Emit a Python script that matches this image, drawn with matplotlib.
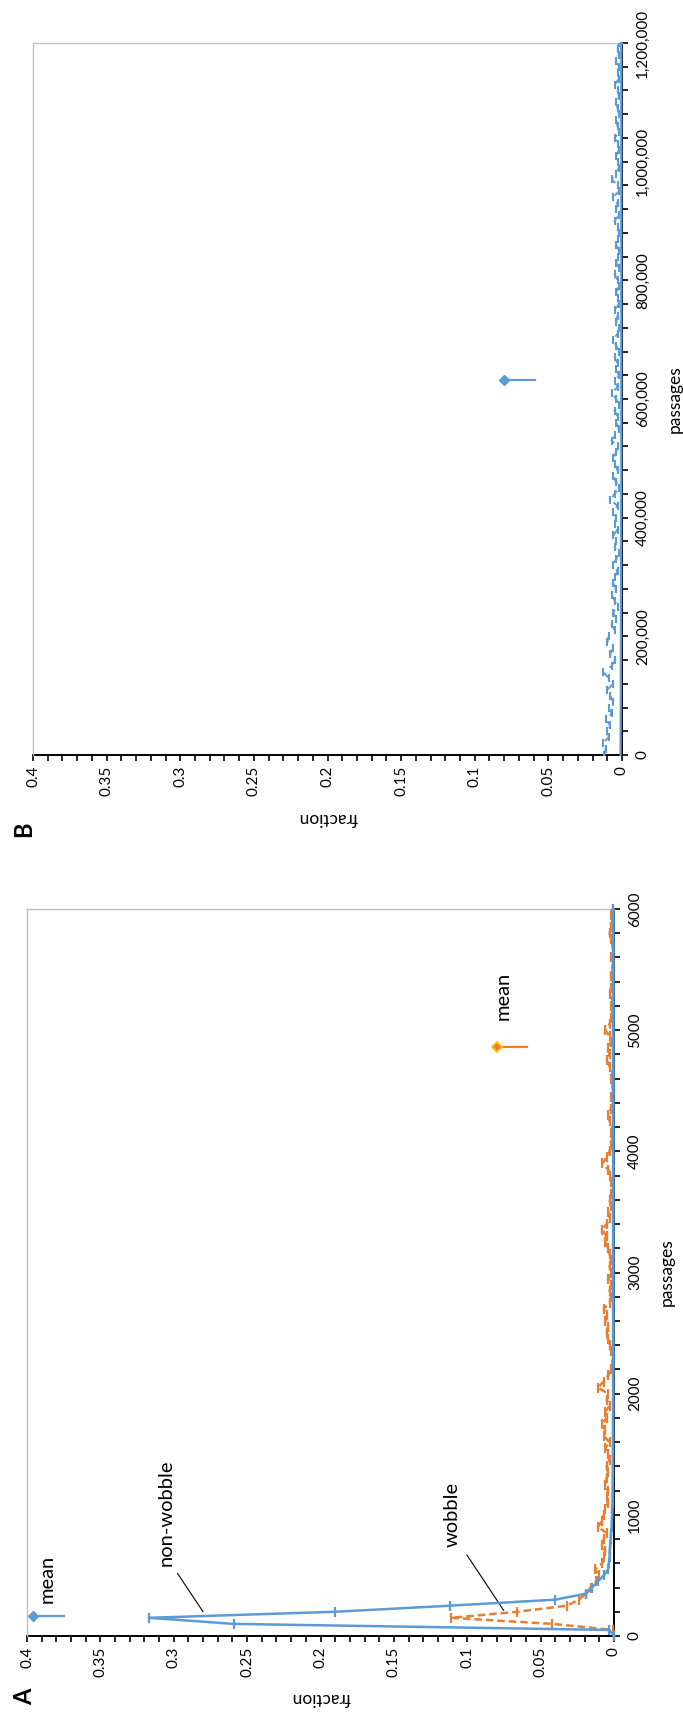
import matplotlib
matplotlib.use("Agg")
import matplotlib.pyplot as plt
from matplotlib.ticker import MultipleLocator, FuncFormatter

W, H = 683, 1714
plt.rcParams['font.family'] = ['Lato', 'DejaVu Sans']

BLUE = '#5B9BD5'
ORANGE = '#ED7D31'
GOLD = '#FFC000'
GRID_GRAY = '#BFBFBF'

# ---------------- Panel A: passages 0..6000 in bins of 50 ----------------
passages_a = list(range(0, 6001, 50))

nonwobble_a = [
    0.0000, 0.0032, 0.259, 0.317, 0.190, 0.112, 0.040, 0.019, 0.015, 0.011,
    0.0070, 0.0040, 0.0035, 0.0030, 0.0030, 0.0025, 0.0022, 0.0020, 0.0016, 0.0015,
    0.0012, 0.0011, 0.0010, 0.0010, 0.0009, 0.0009, 0.0008, 0.0008, 0.0008, 0.0007,
    0.0007, 0.0007, 0.0006, 0.0006, 0.0006, 0.0006, 0.0006, 0.0005, 0.0005, 0.0005,
    0.0005, 0.0005, 0.0005, 0.0005, 0.0004, 0.0004, 0.0004, 0.0004, 0.0004, 0.0004,
    0.0004, 0.0004, 0.0004, 0.0004, 0.0004, 0.0004, 0.0004, 0.0004, 0.0004, 0.0004,
    0.0004, 0.0004, 0.0004, 0.0004, 0.0004, 0.0004, 0.0004, 0.0004, 0.0004, 0.0004,
    0.0004, 0.0004, 0.0004, 0.0004, 0.0004, 0.0004, 0.0004, 0.0004, 0.0004, 0.0004,
    0.0004, 0.0004, 0.0004, 0.0004, 0.0004, 0.0004, 0.0004, 0.0004, 0.0004, 0.0004,
    0.0004, 0.0004, 0.0004, 0.0004, 0.0004, 0.0004, 0.0004, 0.0004, 0.0004, 0.0004,
    0.0004, 0.0004, 0.0004, 0.0004, 0.0004, 0.0004, 0.0004, 0.0004, 0.0004, 0.0004,
    0.0004, 0.0004, 0.0004, 0.0004, 0.0004, 0.0004, 0.0004, 0.0004, 0.0004, 0.0004,
    0.0004,
]

wobble_a = [
    0.000, 0.0005, 0.042, 0.111, 0.066, 0.032, 0.024, 0.019, 0.016, 0.012,
    0.010, 0.013, 0.008, 0.007, 0.006, 0.008, 0.007, 0.005, 0.011, 0.008,
    0.007, 0.006, 0.004, 0.005, 0.004, 0.006, 0.005, 0.004, 0.005, 0.003,
    0.004, 0.006, 0.003, 0.007, 0.006, 0.008, 0.005, 0.006, 0.003, 0.005,
    0.004, 0.011, 0.007, 0.004, 0.002, 0.001, 0.001, 0.002, 0.003, 0.004,
    0.005, 0.004, 0.006, 0.005, 0.007, 0.003, 0.002, 0.003, 0.002, 0.004,
    0.002, 0.003, 0.002, 0.003, 0.004, 0.006, 0.005, 0.008, 0.005, 0.003,
    0.004, 0.002, 0.003, 0.002, 0.001, 0.002, 0.003, 0.004, 0.008, 0.005,
    0.003, 0.002, 0.001, 0.002, 0.001, 0.003, 0.004, 0.002, 0.001, 0.002,
    0.001, 0.001, 0.002, 0.001, 0.003, 0.005, 0.003, 0.004, 0.002, 0.003,
    0.006, 0.003, 0.002, 0.001, 0.002, 0.001, 0.003, 0.002, 0.001, 0.002,
    0.001, 0.001, 0.002, 0.001, 0.001, 0.002, 0.003, 0.002, 0.001, 0.002,
    0.001,
]

mean_nonwobble_a = (165, 0.396, 0.375)    # passage, marker fraction, stem end
mean_wobble_a = (4860, 0.080, 0.059)

# ---------------- Panel B: passages 0..1,200,000 ----------------
passages_b_fine = list(range(0, 1200001, 10000))
scatter_b = [
    0.012, 0.011, 0.013, 0.009, 0.010, 0.008, 0.011, 0.007, 0.009, 0.006,
    0.008, 0.010, 0.006, 0.009, 0.013, 0.007, 0.005, 0.008, 0.006, 0.010,
    0.009, 0.005, 0.007, 0.004, 0.006, 0.003, 0.005, 0.007, 0.004, 0.006,
    0.005, 0.003, 0.006, 0.004, 0.002, 0.005, 0.004, 0.006, 0.003, 0.005,
    0.004, 0.006, 0.003, 0.008, 0.005, 0.002, 0.004, 0.006, 0.003, 0.005,
    0.006, 0.004, 0.003, 0.007, 0.005, 0.002, 0.004, 0.003, 0.005, 0.002,
    0.004, 0.007, 0.003, 0.005, 0.002, 0.004, 0.003, 0.005, 0.002, 0.004,
    0.006, 0.003, 0.002, 0.004, 0.003, 0.005, 0.002, 0.003, 0.004, 0.002,
    0.003, 0.005, 0.002, 0.004, 0.003, 0.002, 0.004, 0.003, 0.002, 0.003,
    0.005, 0.002, 0.004, 0.003, 0.006, 0.002, 0.003, 0.007, 0.004, 0.002,
    0.003, 0.004, 0.002, 0.003, 0.005, 0.002, 0.003, 0.004, 0.002, 0.003,
    0.004, 0.002, 0.003, 0.005, 0.002, 0.003, 0.002, 0.004, 0.002, 0.003,
    0.002,
]
passages_b_coarse = list(range(0, 1200001, 50000))
baseline_b = [
    0.0010, 0.0009, 0.0008, 0.0008, 0.0007, 0.0007, 0.0006, 0.0006, 0.0006, 0.0005,
    0.0005, 0.0005, 0.0005, 0.0005, 0.0005, 0.0005, 0.0005, 0.0005, 0.0005, 0.0005,
    0.0005, 0.0005, 0.0005, 0.0005, 0.0005,
]
mean_b = (632000, 0.080, 0.059)

fraction_ticks_major = 0.05
fraction_ticks_minor = 0.01


def px_rect(x0, y0, x1, y1):
    return [x0 / W, 1 - y1 / H, (x1 - x0) / W, (y1 - y0) / H]


def fx(x):
    return x / W


def fy(y):
    return 1 - y / H


def frac_label(v, pos):
    v = round(v, 2)
    if abs(v) < 1e-9:
        return "0"
    return f"{v:g}"


def style_axes(ax, ymax, ymajor, yminor, yfmt):
    ax.set_xlim(0.4, 0)
    ax.set_ylim(0, ymax)
    for s in ('left', 'top'):
        ax.spines[s].set_color(GRID_GRAY)
        ax.spines[s].set_linewidth(1.0)
    for s in ('bottom', 'right'):
        ax.spines[s].set_color('black')
        ax.spines[s].set_linewidth(1.4)
    ax.spines['bottom'].set_zorder(0.5)
    ax.xaxis.set_major_locator(MultipleLocator(fraction_ticks_major))
    ax.xaxis.set_minor_locator(MultipleLocator(fraction_ticks_minor))
    ax.xaxis.set_major_formatter(FuncFormatter(frac_label))
    ax.yaxis.set_major_locator(MultipleLocator(ymajor))
    ax.yaxis.set_minor_locator(MultipleLocator(yminor))
    ax.yaxis.set_major_formatter(FuncFormatter(yfmt))
    ax.yaxis.tick_right()
    ax.tick_params(axis='both', which='both', direction='out', length=4,
                   width=1.2, color='black')
    ax.tick_params(axis='x', which='major', labelrotation=90, labelsize=11,
                   pad=4)
    ax.tick_params(axis='y', which='major', labelrotation=90, labelsize=11,
                   pad=6)
    plt.setp(ax.get_yticklabels(), va='center')
    ax.set_facecolor('white')


fig = plt.figure(figsize=(W / 100, H / 100), dpi=100)
fig.patch.set_facecolor('white')

axA = fig.add_axes(px_rect(27, 909, 614, 1636))
axB = fig.add_axes(px_rect(33, 43, 622, 755))

style_axes(axA, 6000, 1000, 200, lambda v, p: f"{int(round(v))}")
style_axes(axB, 1200000, 200000, 40000, lambda v, p: f"{int(round(v)):,}")

# ---- Panel A curves
axA.plot(wobble_a, passages_a, color=ORANGE, lw=1.8, ls=(0, (3, 1.6)),
         marker='|', ms=7, mew=1.6, zorder=3, clip_on=False)
axA.plot(nonwobble_a, passages_a, color=BLUE, lw=1.8, marker='|', ms=7,
         mew=1.6, zorder=4, clip_on=False)

# mean markers with stems
p, m, e = mean_nonwobble_a
axA.plot([m, e], [p, p], color=BLUE, lw=1.6, zorder=5)
axA.plot([m], [p], marker='D', ms=5, color=BLUE, zorder=6, clip_on=False)
axA.text(0.386, 469, "mean", rotation=90, ha='center', va='center', fontsize=14.5)

p, m, e = mean_wobble_a
axA.plot([m, e], [p, p], color=ORANGE, lw=1.6, zorder=5)
axA.plot([m], [p], marker='D', ms=5.5, color=ORANGE, mec=GOLD, mew=1.2, zorder=6)
axA.text(0.0755, 5285, "mean", rotation=90, ha='center', va='center', fontsize=14.5)

# series labels with leader lines
axA.text(0.305, 1020, "non-wobble", rotation=90, ha='center', va='center', fontsize=14.5)
axA.plot([0.2974, 0.2801], [516, 201], color='black', lw=0.8, zorder=2)
axA.text(0.110, 1007, "wobble", rotation=90, ha='center', va='center', fontsize=14.5)
axA.plot([0.1002, 0.0752], [668, 212], color='black', lw=0.8, zorder=2)

# ---- Panel B curves
axB.plot(scatter_b, passages_b_fine, color=BLUE, lw=1.4, ls=(0, (4, 4)),
         marker='|', ms=6, mew=1.5, zorder=3)
axB.plot(baseline_b, passages_b_coarse, color=BLUE, lw=1.6, zorder=4,
         clip_on=False)
p, m, e = mean_b
axB.plot([m, e], [p, p], color=BLUE, lw=1.6, zorder=5)
axB.plot([m], [p], marker='D', ms=5, color=BLUE, zorder=6)

# ---- axis titles and panel letters
fig.text(fx(321), fy(1698), "fraction", rotation=180, ha='center', va='center',
         fontsize=12.5)
fig.text(fx(328), fy(818), "fraction", rotation=180, ha='center', va='center',
         fontsize=12.5)
fig.text(fx(667), fy(1272), "passages", rotation=90, ha='center', va='center',
         fontsize=12.5)
fig.text(fx(675), fy(399), "passages", rotation=90, ha='center', va='center',
         fontsize=12.5)
fig.text(fx(25), fy(1697), "A", rotation=90, ha='center', va='center',
         fontsize=17, fontweight='bold')
fig.text(fx(24), fy(829), "B", rotation=90, ha='center', va='center',
         fontsize=17, fontweight='bold')

fig.savefig("out.png", dpi=100, facecolor='white')
